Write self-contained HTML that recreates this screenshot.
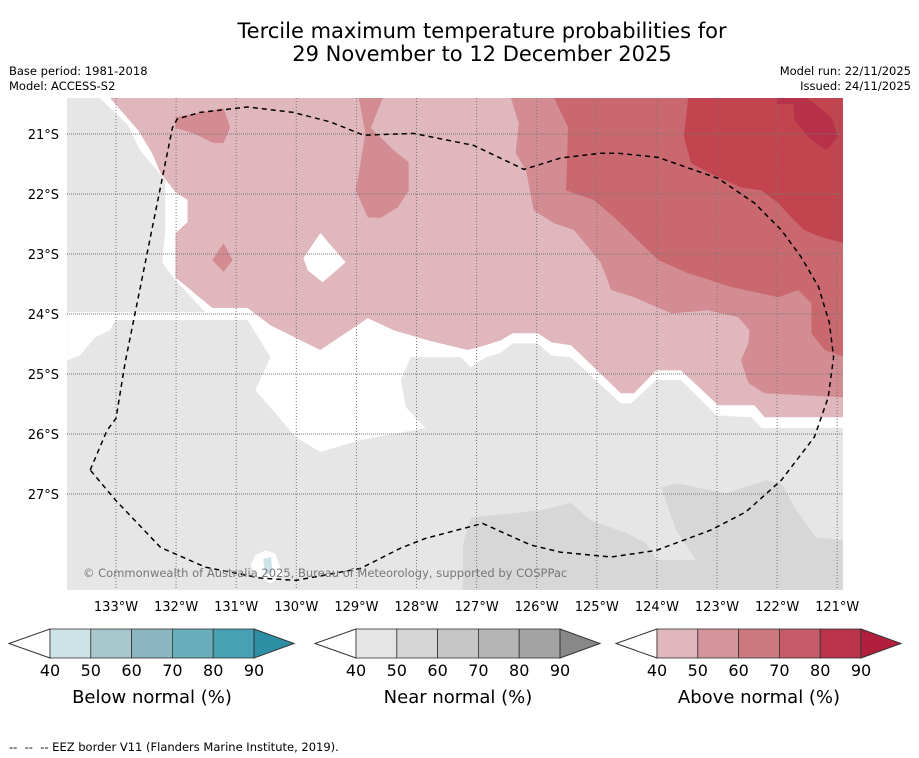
<!DOCTYPE html>
<html><head><meta charset="utf-8"><style>
html,body{margin:0;padding:0;background:#fff;}
body{width:919px;height:758px;overflow:hidden;position:relative;font-family:"DejaVu Sans","Liberation Sans",sans-serif;}
svg{position:absolute;left:0;top:0;font-family:"DejaVu Sans","Liberation Sans",sans-serif;}
</style></head><body>
<svg id="chart" width="919" height="758" viewBox="0 0 919 758" xmlns="http://www.w3.org/2000/svg">
<text x="482" y="38" text-anchor="middle" font-size="21" fill="#000">Tercile maximum temperature probabilities for</text>
<text x="482" y="61" text-anchor="middle" font-size="21" fill="#000">29 November to 12 December 2025</text>
<text x="9" y="75" font-size="11.5">Base period: 1981-2018</text>
<text x="9" y="90" font-size="11.5">Model: ACCESS-S2</text>
<text x="911" y="75" font-size="11.5" text-anchor="end">Model run: 22/11/2025</text>
<text x="911" y="90" font-size="11.5" text-anchor="end">Issued: 24/11/2025</text>
<defs><clipPath id="mapclip"><rect x="67" y="98" width="776" height="492"/></clipPath></defs>
<g id="map" clip-path="url(#mapclip)"></g>
<g id="axes"></g>
<text x="83" y="577" font-size="11.5" fill="#777">© Commonwealth of Australia 2025, Bureau of Meteorology, supported by COSPPac</text>
<g id="bars"></g>
<text x="9" y="751" font-size="11.5" xml:space="preserve">--  --  -- EEZ border V11 (Flanders Marine Institute, 2019).</text>
</svg>
<script>
// axis ranges (degrees west / degrees south)
const lonTicks = [133,132,131,130,129,128,127,126,125,124,123,122,121];
const latTicks = [21,22,23,24,25,26,27];
// contour regions as [lon W, lat S]
const whiteRegion = [[133.27,20.40],[120.88,20.40],[120.88,25.90],[122.26,25.90],[122.43,25.72],[123.01,25.69],[123.60,25.10],[124.01,25.10],[124.43,25.49],[124.60,25.49],[125.43,24.72],[125.76,24.69],[125.98,24.49],[126.40,24.49],[126.60,24.65],[126.85,24.72],[127.10,24.89],[127.26,24.72],[128.10,24.72],[128.26,25.10],[128.18,25.55],[127.85,25.90],[128.93,26.10],[129.60,26.30],[130.01,26.05],[130.35,25.65],[130.68,25.27],[130.43,24.72],[130.81,24.10],[133.01,24.10],[133.10,24.27],[133.35,24.39],[133.60,24.69],[133.81,24.77],[133.81,23.97],[131.51,23.97],[132.01,23.44],[132.23,23.14],[132.18,22.60],[132.18,21.77],[132.60,21.27],[132.80,20.85]];
const whiteNotch = [[127.85,20.40],[126.68,20.40],[126.93,20.60],[127.18,20.69],[127.51,20.69],[127.73,20.52]];
const grayNotch = [[127.48,20.40],[127.05,20.40],[127.13,20.50],[127.40,20.50]];
const whitePatch = [[130.68,28.02],[130.51,27.94],[130.35,27.99],[130.23,28.35],[130.43,28.49],[130.68,28.35],[130.76,28.19]];
const bluePatch = [[130.55,28.08],[130.42,28.05],[130.40,28.30],[130.52,28.35]];
const near50 = [[127.23,28.60],[127.23,27.85],[127.10,27.39],[125.93,27.27],[125.43,27.15],[125.10,27.44],[124.51,27.65],[124.18,27.82],[124.01,28.10],[123.35,28.10],[123.68,27.60],[123.93,26.89],[123.68,26.82],[122.85,26.99],[122.18,26.77],[121.93,26.82],[121.68,27.27],[121.35,27.72],[120.88,27.77],[120.88,28.60]];
const above40 = [[133.10,20.40],[120.88,20.40],[120.88,25.72],[122.21,25.72],[122.38,25.52],[122.98,25.52],[123.60,24.94],[124.01,24.94],[124.38,25.32],[124.60,25.32],[125.43,24.52],[125.76,24.47],[125.98,24.32],[126.40,24.32],[126.60,24.44],[126.85,24.52],[127.15,24.60],[127.81,24.44],[128.38,24.27],[128.81,24.07],[129.60,24.60],[130.43,24.19],[130.81,23.90],[131.40,23.90],[132.01,23.39],[132.01,22.65],[131.81,22.47],[131.81,22.10],[132.01,21.97],[132.26,21.65],[132.40,21.32],[132.63,20.94]];
const above50 = [[126.43,20.40],[126.30,20.82],[126.35,21.32],[126.18,21.60],[126.05,22.27],[125.71,22.49],[125.38,22.60],[124.93,23.15],[124.76,23.60],[124.38,23.72],[123.76,23.99],[123.15,23.94],[122.65,24.05],[122.46,24.27],[122.48,24.49],[122.60,24.77],[122.48,25.15],[122.21,25.32],[120.88,25.39],[120.88,20.40]];
const above50a = [[132.01,20.72],[131.21,20.57],[131.10,20.89],[131.21,21.15],[131.38,21.15],[131.71,20.99],[132.01,20.90]];
const above50b = [[131.40,23.10],[131.21,22.82],[131.06,23.10],[131.21,23.30]];
const above50c = [[128.96,20.40],[128.56,20.40],[128.76,20.90],[128.38,21.27],[128.13,21.47],[128.13,21.94],[128.31,22.22],[128.60,22.40],[128.81,22.39],[129.01,21.94],[128.93,21.47],[128.85,20.99]];
const above60 = [[125.71,20.40],[125.48,20.89],[125.51,21.94],[125.05,22.10],[124.71,22.39],[123.98,23.10],[123.48,23.32],[122.76,23.55],[121.98,23.72],[121.65,23.60],[121.43,23.82],[121.43,24.32],[121.21,24.60],[120.88,24.72],[120.88,20.40]];
const above70 = [[123.48,20.40],[123.55,21.05],[123.43,21.49],[122.98,21.72],[122.60,21.89],[122.26,21.94],[121.98,22.15],[121.76,22.39],[121.55,22.60],[121.26,22.72],[120.88,22.82],[120.88,20.40]];
const above80 = [[122.01,20.40],[121.51,20.40],[121.38,20.49],[121.10,20.72],[120.98,21.05],[121.18,21.27],[121.48,21.05],[121.71,20.77],[121.73,20.50],[122.01,20.50]];
const whiteIsland = [[129.60,22.65],[129.18,23.14],[129.56,23.47],[129.81,23.27],[129.88,23.07]];
const eezLine = [[133.43,26.60],[133.15,25.94],[133.00,25.74],[132.85,24.82],[132.06,20.89],[131.98,20.75],[131.60,20.64],[130.81,20.55],[130.05,20.64],[129.43,20.80],[128.88,21.02],[128.05,20.99],[127.05,21.19],[126.21,21.59],[125.60,21.40],[124.93,21.32],[124.65,21.32],[123.98,21.39],[122.98,21.74],[122.38,22.15],[121.93,22.60],[121.60,23.05],[121.31,23.55],[121.13,24.15],[121.06,24.72],[121.15,25.39],[121.38,26.05],[121.93,26.77],[122.52,27.30],[123.10,27.60],[124.01,27.94],[124.76,28.05],[125.60,27.97],[126.10,27.85],[126.90,27.49],[127.85,27.74],[128.26,27.90],[128.93,28.24],[130.01,28.44],[130.60,28.40],[131.51,28.22],[132.26,27.89],[133.01,27.10],[133.43,26.60]];
// colorbar data
const barLevels = [40,50,60,70,80,90];
const belowColors = ['#cde3e8','#a8c8cd','#8ab6c2','#6aaebb','#48a1b3','#2e8ea3'];
const nearColors = ['#e5e5e5','#d5d5d5','#c6c6c6','#b5b5b5','#a3a3a3','#888888'];
const aboveColors = ['#e0b7bc','#d6959b','#cd777f','#c45b67','#b9344a','#b11f3c'];
const barTitles = ['Below normal (%)','Near normal (%)','Above normal (%)'];

const NS='http://www.w3.org/2000/svg';
const xScale = lon => 116 + (133 - lon) * 60.1;
const yScale = lat => 134 + (lat - 21) * 60;
function mk(tag, attrs, parent){const e=document.createElementNS(NS,tag);for(const k in attrs)e.setAttribute(k,attrs[k]);parent.appendChild(e);return e;}
const pts = arr => arr.map(p => xScale(p[0]).toFixed(1)+','+yScale(p[1]).toFixed(1)).join(' ');
const map=document.getElementById('map');
let bg=mk('rect',{x:67,y:98,width:776,height:492,fill:'#e6e6e6'},map);


const layers=[[near50,'#d7d7d7','near-normal-50-region'],[whiteRegion,'#ffffff','no-signal-region'],[whiteNotch,'#ffffff','no-signal-notch'],[grayNotch,'#e6e6e6','near-normal-notch'],[whitePatch,'#ffffff','no-signal-patch'],[bluePatch,'#cde3e8','below-normal-patch'],[above40,'#e0b7bc','above-normal-40-region'],[above50,'#d48c93','above-normal-50-region'],[above50a,'#d48c93','above-normal-50-patch-a'],[above50b,'#d48c93','above-normal-50-patch-b'],[above50c,'#d48c93','above-normal-50-patch-c'],[above60,'#c9686f','above-normal-60-region'],[above70,'#c1444f','above-normal-70-region'],[above80,'#b73148','above-normal-80-region'],[whiteIsland,'#ffffff','no-signal-island']];
layers.forEach(l=>{const p=mk('polygon',{points:pts(l[0]),fill:l[1]},map);

});
const axes=document.getElementById('axes');
lonTicks.forEach(v=>{const x=xScale(v);
const g=mk('line',{x1:x,y1:98,x2:x,y2:590,stroke:'#777','stroke-width':1,'stroke-dasharray':'1,2'},map);


const t=mk('text',{x:x,y:611,'text-anchor':'middle','font-size':13},axes);t.textContent=v+'°W';

});
latTicks.forEach(v=>{const y=yScale(v);
const g=mk('line',{x1:67,y1:y,x2:843,y2:y,stroke:'#777','stroke-width':1,'stroke-dasharray':'1,1'},map);


const t=mk('text',{x:59,y:y+5,'text-anchor':'end','font-size':13},axes);t.textContent=v+'°S';

});
const eez=mk('polyline',{points:pts(eezLine),fill:'none',stroke:'#000','stroke-width':1.5,'stroke-dasharray':'5,4'},map);


const bars=document.getElementById('bars');
const starts=[50,356,657], segW=40.8, by=629, bh=29;
[belowColors,nearColors,aboveColors].forEach((cols,i)=>{const x0=starts[i];
const g=mk('g',{},bars);


const lt=mk('polygon',{points:`${x0},${by} ${x0-41},${by+bh/2} ${x0},${by+bh}`,fill:'#fff',stroke:'#333','stroke-width':1},g);


for(let k=0;k<5;k++){const r=mk('rect',{x:x0+k*segW,y:by,width:segW,height:bh,fill:cols[k],stroke:'#333','stroke-width':0.8},g);

}
const xe=x0+5*segW;
const rt=mk('polygon',{points:`${xe},${by} ${xe+40},${by+bh/2} ${xe},${by+bh}`,fill:cols[5],stroke:'#333','stroke-width':1},g);


barLevels.forEach((lv,k)=>{const t=mk('text',{x:x0+k*segW,y:676,'text-anchor':'middle','font-size':16},g);t.textContent=lv;

});
const tt=mk('text',{x:x0+2.5*segW,y:703,'text-anchor':'middle','font-size':18},g);tt.textContent=barTitles[i];

});
</script>
</body></html>
